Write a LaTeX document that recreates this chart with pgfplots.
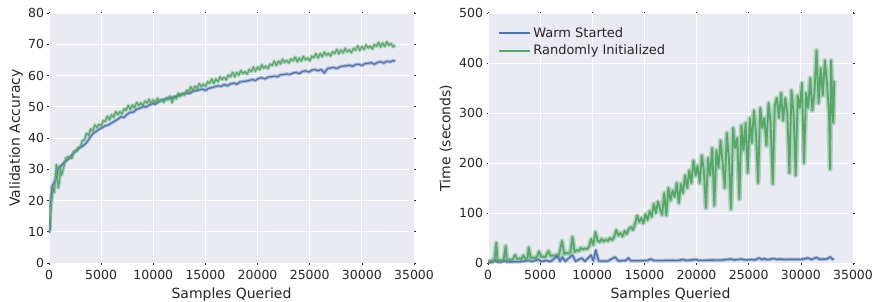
\documentclass[border=0pt]{standalone}
\usepackage{pgfplots}
\pgfplotsset{compat=1.18}
\usepackage{pgfplotstable}
\usepackage{fontspec}
\setmainfont{DejaVu Sans}
\definecolor{bgc}{HTML}{EAEAF2}
\definecolor{sbblue}{HTML}{4C72B0}
\definecolor{sbgreen}{HTML}{55A868}
\definecolor{txt}{HTML}{262626}

\pgfplotstableread{
x y
0 9.6
100 11
150 18
200 21.5
300 24.5
400 25.2
500 25.8
600 26.5
700 27.3
800 29
900 30.5
1100 31
1300 31.6
1500 32.3
1800 33.1
2100 34.2
2400 35.4
2700 36.2
3000 37
3300 37.6
3600 38.5
3900 40
4200 41.4
4500 42.1
4800 42.8
5100 43.3
5400 43.9
5700 44.2
6000 44.8
6300 45.4
6600 46
6900 46.8
7200 46.6
7500 47.6
7800 48.2
8100 48.3
8400 49.2
8700 49.5
9000 50
9300 49.9
9600 50.5
9900 51
10200 50.8
10500 51.6
10800 52.1
11100 52.3
11400 52.8
11700 52.7
12000 53.2
12300 53.4
12600 53.8
12900 54.2
13200 54.4
13500 54.3
13800 55
14100 55.1
14400 55.4
14700 55.7
15000 55.2
15300 55.9
15600 56.1
15900 56.4
16200 56.7
16500 56.5
16800 57.1
17100 56.7
17400 57.3
17700 57.6
18000 57.2
18300 57.9
18600 58.1
18900 58.2
19200 58.4
19500 58.7
19800 58.4
20100 59.1
20400 59.3
20700 58.9
21000 59.5
21300 59.6
21600 59.8
21900 59.6
22200 60.2
22500 60.3
22800 60.5
23100 60.3
23400 60.8
23700 61
24000 60.6
24300 61.3
24600 61.5
24900 61.1
25200 61.7
25500 61.9
25800 61.5
26100 62
26400 60.8
26700 62.2
27000 62.4
27300 62.6
27600 62.2
27900 62.8
28200 63
28500 63.1
28800 63.3
29100 62.9
29400 63.5
29700 63.6
30000 63.2
30300 63.8
30600 63.9
30900 64.1
31200 63.6
31500 64.2
31800 64.4
32100 64.0
32400 64.6
32700 64.3
33000 64.8
33200 64.5
}\accblue

\pgfplotstableread{
x y
0 10
100 14
200 19
300 21
400 24
500 22.5
600 26
700 31.5
800 27
900 24
1000 26
1100 31
1200 28
1400 30.5
1600 33.5
1800 34
2000 33.6
2200 33.5
2400 35.8
2600 35.6
2800 37.0
3000 37.0
3200 39.2
3400 39.4
3600 41.5
3800 40.8
4000 42.9
4200 42.3
4400 44.2
4600 43.4
4800 44.4
5000 43.9
5200 45.6
5400 45.3
5600 47.0
5800 45.8
6000 47.4
6200 46.6
6400 48.4
6600 47.5
6800 48.4
7000 47.7
7200 49.3
7400 48.9
7600 50.4
7800 49.1
8000 50.6
8200 49.7
8400 51.4
8600 50.4
8800 51.2
9000 50.4
9200 51.8
9400 51.2
9600 52.4
9800 50.9
10000 52.2
10200 51.2
10400 52.7
10600 51.7
10800 52.3
11000 51.4
11200 52.8
11400 52.2
11600 53.4
11800 51.3
12000 53.2
12200 52.5
12400 54.3
12600 53.4
12800 54.3
13000 53.7
13200 55.3
13400 54.9
13600 56.4
13800 55.1
14000 56.6
14200 55.8
14400 57.4
14600 56.5
14800 57.2
15000 56.5
15200 58.0
15400 57.5
15600 58.9
15800 57.5
16000 58.9
16200 58.0
16400 59.6
16600 58.7
16800 59.4
17000 58.6
17200 60.1
17400 59.6
17600 61.0
17800 59.6
18000 61.0
18200 60.1
18400 61.6
18600 60.6
18800 61.2
19000 60.4
19200 61.9
19400 61.3
19600 62.7
19800 61.3
20000 62.7
20200 61.8
20400 63.4
20600 62.3
20800 63.0
21000 62.2
21200 63.7
21400 63.2
21600 64.6
21800 63.2
22000 64.6
22200 63.7
22400 65.2
22600 64.2
22800 64.8
23000 64.0
23200 65.3
23400 64.7
23600 65.9
23800 64.4
24000 65.6
24200 64.6
24400 66.1
24600 65.0
24800 65.6
25000 64.7
25200 66.2
25400 65.7
25600 67.0
25800 65.6
26000 67.0
26200 66.0
26400 67.5
26600 66.5
26800 67.1
27000 66.2
27200 67.6
27400 67.0
27600 68.4
27800 66.9
28000 68.2
28200 67.2
28400 68.7
28600 67.6
28800 68.2
29000 67.3
29200 68.7
29400 68.1
29600 69.5
29800 68.0
30000 69.3
30200 68.3
30400 69.8
30600 68.8
30800 69.4
31000 68.5
31200 69.9
31400 69.3
31600 70.6
31800 69.1
32000 70.4
32200 69.3
32400 70.8
32600 69.6
32800 70.2
33000 69.2
33200 69.7
}\accgreen

\pgfplotstableread{
x y
0 1
400 1.5
670 6
900 2
1300 2
1565 5
1800 2
2500 2.5
3000 2.5
3870 5
4200 3
4830 7
5100 3
5630 5
6000 3
6680 14
6900 3.5
7130 12
7400 3.5
8090 16
8400 3.5
8980 10
9300 3.5
9880 16
10100 4
10330 26
10600 4
11500 4
12180 12
12500 4
13200 5
13460 10
13700 4.5
14500 4.5
15300 5
15600 8
15900 5
16800 5
17500 5.5
18200 5
18700 7
19000 5
19500 6
19800 7
20200 5.5
21000 5.5
21800 6
22500 6
23300 8
23600 6
24300 8
24600 6
25300 7
25600 6
26000 10
26300 6.5
26500 9
26800 6.5
27400 9
27700 7
27900 8
28500 7
29700 7.5
30000 7
30700 10
31000 7
31500 11
31800 7.5
32500 8
32800 12
33000 8
33200 7.5
}\timeblue

\pgfplotstableread{
x y
0 3
200 4
400 5
600 4
800 40
900 5
1100 6
1300 5
1500 6
1700 34
1800 6
2000 7
2200 6
2400 8
2600 16
2800 8
3000 9
3200 8
3400 15
3600 9
3800 10
3900 31
4100 10
4300 11
4500 10
4700 12
4900 23
5100 12
5300 13
5500 12
5800 24
6000 14
6200 15
6400 14
6600 17
6800 16
7100 44
7300 18
7500 20
7700 19
7900 21
8100 52
8300 22
8500 26
8700 24
8900 30
9100 27
9300 29
9500 28
9700 33
9900 48
10100 36
10300 62
10500 45
10700 42
10900 48
11100 43
11300 47
11500 44
11700 50
11900 46
12100 52
12300 66
12500 55
12700 60
12900 53
13100 64
13300 58
13500 68
13700 72
13900 66
14100 78
14300 95
14500 82
14700 90
14900 79
15100 98
15300 86
15500 104
15700 92
15900 118
16100 100
16300 123
16500 108
16700 96
16900 140
17100 95
17300 150
17500 125
17700 145
17900 132
18100 160
18300 120
18500 158
18700 140
18900 175
19100 150
19300 185
19500 160
19700 205
19900 175
20100 195
20300 160
20500 215
20700 185
20900 110
21100 210
21300 175
21500 230
21700 115
21900 225
22100 190
22300 245
22500 200
22700 150
22900 260
23100 210
23300 108
23500 270
23700 230
23900 250
24100 128
24300 275
24500 225
24700 280
24900 180
25100 290
25300 240
25500 305
25700 260
25900 160
26100 310
26300 270
26500 290
26700 235
26900 320
27100 280
27300 158
27500 315
27700 330
27900 290
28100 340
28300 285
28500 330
28700 300
28900 180
29100 345
29300 300
29500 175
29700 335
29900 310
30100 360
30300 200
30500 340
30700 310
30900 370
31100 305
31300 340
31500 425
31700 320
31900 390
32100 335
32300 405
32500 360
32700 300
32800 188
32900 405
33000 330
33100 280
33200 365
}\timegreen

\pgfplotsset{
  sbstyle/.style={
    scale only axis,
    width=365pt, height=250pt,
    xmin=0, xmax=35000,
    xtick={0,5000,...,35000},
    axis background/.style={fill=bgc},
    axis line style={draw=none},
    grid=major,
    grid style={white, line width=0.9pt},
    tick align=outside,
    major tick length=1.5pt,
    tick style={txt, line width=0.6pt},
    scaled ticks=false,
    /pgf/number format/1000 sep={},
    /pgf/number format/assume math mode=true,
    ticklabel style={font=\fontsize{12.5}{14}\selectfont, text=txt},
    xticklabel style={yshift=-2.5pt},
    label style={font=\fontsize{14}{16}\selectfont, text=txt},
    xlabel style={yshift=-1.5pt},
    xlabel={Samples Queried},
    every axis plot/.append style={line join=round},
  },
}

\begin{document}
\begin{tikzpicture}
\useasboundingbox (-49pt,-38pt) rectangle (825pt,263pt);
\begin{axis}[sbstyle, at={(0pt,0pt)}, anchor=south west,
  ymin=0, ymax=80, ytick={0,10,...,80},
  ylabel={Validation Accuracy}, ylabel style={xshift=0pt, yshift=-1.5pt}]
\addplot[sbblue, line width=3.5pt, opacity=0.4, forget plot] table[x=x,y=y]{\accblue};
\addplot[sbgreen, line width=3.5pt, opacity=0.4, forget plot] table[x=x,y=y]{\accgreen};
\addplot[sbblue, line width=1.2pt] table[x=x,y=y]{\accblue};
\addplot[sbgreen, line width=1.2pt] table[x=x,y=y]{\accgreen};
\end{axis}
\begin{axis}[sbstyle, at={(439pt,0pt)}, anchor=south west,
  ymin=0, ymax=500, ytick={0,100,...,500},
  ylabel={Time (seconds)},
  legend style={at={(0.02,0.96)}, anchor=north west, draw=none, fill=none,
    font=\fontsize{13}{15}\selectfont, text=txt, row sep=2.5pt},
  legend cell align=left,
  legend image code/.code={\draw[#1, line width=1.8pt] (0pt,0pt) -- (27pt,0pt); \path (0pt,0pt) -- (31pt,0pt);}]
\addplot[sbblue, line width=3.5pt, opacity=0.4, forget plot] table[x=x,y=y]{\timeblue};
\addplot[sbgreen, line width=5pt, opacity=0.38, forget plot] table[x=x,y=y]{\timegreen};
\addplot[sbblue, line width=1.4pt] table[x=x,y=y]{\timeblue};
\addplot[sbgreen, line width=1.8pt] table[x=x,y=y]{\timegreen};
\legend{Warm Started, Randomly Initialized}
\end{axis}
\end{tikzpicture}
\end{document}
